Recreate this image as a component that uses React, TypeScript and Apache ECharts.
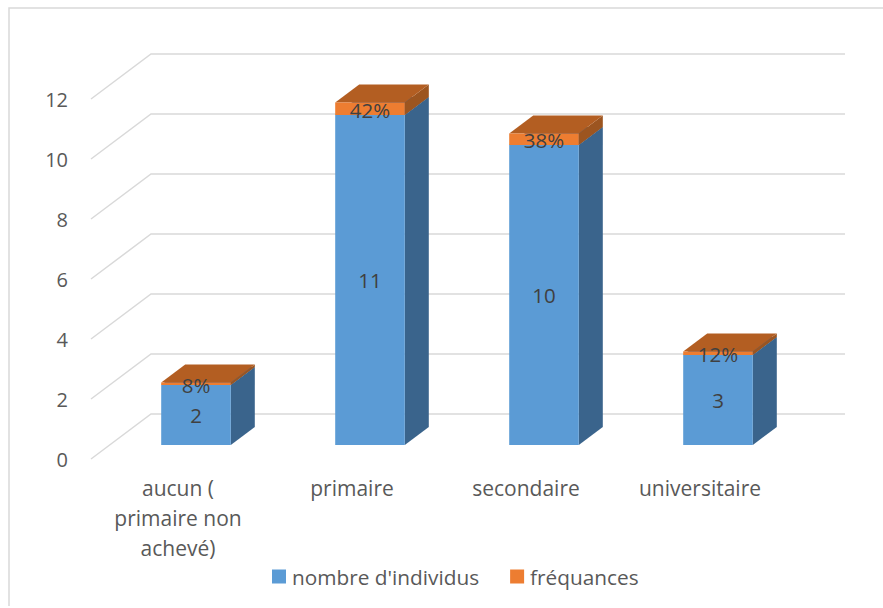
import React, { useEffect, useRef } from "react";
import * as echarts from "echarts";

const categories = ["aucun (\nprimaire non\nachevé)", "primaire", "secondaire", "universitaire"];
const individus = [2, 11, 10, 3];
const frequences = [0.08, 0.42, 0.38, 0.12];
const gridTicks = [0, 2, 4, 6, 8, 10, 12];
const FONT = "'Open Sans'";

const WALL_DX = 60, WALL_DY = -45, WALL_END_DX = 58;
const BAR_DX = 18, BAR_DY = -14;
const DEPTH_DX = 24, DEPTH_DY = -18;

function box(api: any, front: string, side: string, top: string, label: string, labelDy: number) {
  const idx = api.value(0);
  const a = api.coord([idx, api.value(1)]);
  const b = api.coord([idx, api.value(2)]);
  const w = api.size([1, 0])[0] * 0.4;
  const xl = a[0] + BAR_DX - w / 2;
  const xr = xl + w;
  const y0 = a[1] + BAR_DY;
  const y1 = b[1] + BAR_DY;
  return {
    type: "group",
    children: [
      { type: "polygon", shape: { points: [[xr, y0], [xr + DEPTH_DX, y0 + DEPTH_DY], [xr + DEPTH_DX, y1 + DEPTH_DY], [xr, y1]] }, style: { fill: side } },
      { type: "polygon", shape: { points: [[xl, y1], [xr, y1], [xr + DEPTH_DX, y1 + DEPTH_DY], [xl + DEPTH_DX, y1 + DEPTH_DY]] }, style: { fill: top } },
      { type: "rect", shape: { x: xl, y: y1, width: w, height: y0 - y1 }, style: { fill: front } },
      {
        type: "text",
        z2: 10,
        style: {
          x: xl + w / 2,
          y: (y0 + y1) / 2 + labelDy,
          text: label,
          fill: "#404040",
          font: `20.5px ${FONT}`,
          align: "center",
          verticalAlign: "middle",
        },
      },
    ],
  };
}

export default function App() {
  const ref = useRef<HTMLDivElement>(null);
  useEffect(() => {
    document.body.style.margin = "0";
    const chart = echarts.init(ref.current!, undefined, { renderer: "svg" });
    chart.setOption({
      animation: false,
      backgroundColor: "#ffffff",
      graphic: [
        {
          type: "polyline",
          silent: true,
          shape: { points: [[9, 606], [9, 8], [883, 8]] },
          style: { fill: "none", stroke: "#d9d9d9", lineWidth: 1.5 },
        },
      ],
      grid: { left: 91, top: 99, width: 696, height: 360 },
      legend: {
        left: 267,
        top: 561,
        icon: "rect",
        itemWidth: 14,
        itemHeight: 14,
        itemGap: 31,
        data: ["nombre d'individus", "fréquances"],
        textStyle: { color: "#595959", fontFamily: FONT, fontSize: 20.8, padding: [0, 0, 2, 1] },
      },
      xAxis: {
        type: "category",
        data: categories,
        axisLine: { show: false },
        axisTick: { show: false },
        splitLine: { show: false },
        axisLabel: { color: "#595959", fontFamily: FONT, fontSize: 21, lineHeight: 30, margin: 14, interval: 0 },
      },
      yAxis: {
        type: "value",
        min: 0,
        max: 12,
        interval: 2,
        axisLine: { show: false },
        axisTick: { show: false },
        splitLine: { show: false },
        axisLabel: { color: "#595959", fontFamily: FONT, fontSize: 20, margin: 23 },
      },
      series: [
        {
          type: "custom",
          name: "grid",
          silent: true,
          z: 1,
          data: gridTicks.map((t) => [t]),
          encode: { y: 0 },
          renderItem: (_p: any, api: any) => {
            const v = api.value(0);
            const l = api.coord([0, v]);
            const cs = _p.coordSys;
            const x0 = cs.x;
            const x1 = cs.x + cs.width;
            return {
              type: "polyline",
              shape: { points: [[x0, l[1]], [x0 + WALL_DX, l[1] + WALL_DY], [x1 + WALL_END_DX, l[1] + WALL_DY]] },
              style: { fill: "none", stroke: "#d9d9d9", lineWidth: 1.5 },
            };
          },
        },
        {
          type: "custom",
          name: "nombre d'individus",
          z: 2,
          itemStyle: { color: "#5b9bd5" },
          data: individus.map((v, i) => [i, 0, v]),
          encode: { x: 0, y: [1, 2] },
          renderItem: (_p: any, api: any) =>
            box(api, "#5b9bd5", "#3a648c", "#3a648c", String(api.value(2)), 0),
        },
        {
          type: "custom",
          name: "fréquances",
          z: 3,
          itemStyle: { color: "#ed7d31" },
          data: frequences.map((v, i) => [i, individus[i], individus[i] + v]),
          encode: { x: 0, y: [1, 2] },
          renderItem: (_p: any, api: any) => {
            const i = api.value(0);
            return box(api, "#ed7d31", "#9c5520", "#b35e22", Math.round(frequences[i] * 100) + "%", 1);
          },
        },
      ],
    });
    return () => chart.dispose();
  }, []);
  return <div ref={ref} style={{ position: "absolute", left: 0, top: 0, width: 883, height: 608 }} />;
}
